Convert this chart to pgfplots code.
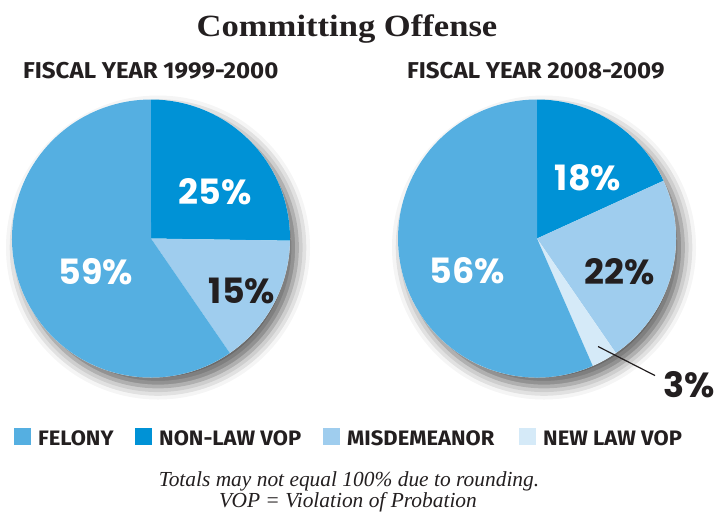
\documentclass[border=0pt]{standalone}
\usepackage{pgfplots}
\pgfplotsset{compat=1.18}
\usepackage{fontspec}
\usetikzlibrary{shadows.blur}
\setmainfont{Liberation Serif}
\newfontfamily\titlefont[FakeStretch=1.12]{Liberation Serif}
\newfontfamily\condfont[FakeStretch=1.05]{Fira Sans}
\newfontfamily\pctfont{Poppins}
\definecolor{felony}{HTML}{55AFE1}
\definecolor{nonlaw}{HTML}{0092D6}
\definecolor{misd}{HTML}{9FCDEE}
\definecolor{newlaw}{HTML}{D5EAF8}
\definecolor{ink}{HTML}{231F20}
\newcommand\R{139bp}
% #1 start angle, #2 share, #3 total, #4 colour
\newcommand\slice[4]{\fill[#4] (axis cs:0,0) -- (axis cs:{cos(#1)},{sin(#1)}) arc[start angle={#1}, delta angle={-(#2)/(#3)*360}, radius=\R] -- cycle;}
\pgfplotsset{pie/.style={hide axis, scale only axis, width=278bp, height=278bp,
  xmin=-1, xmax=1, ymin=-1, ymax=1, clip=false, anchor=center}}
\newcommand\pct[1]{\pctfont\bfseries\fontsize{35}{35}\selectfont #1}
\tikzset{pieshadow/.style={blur shadow={shadow xshift=7bp, shadow yshift=-9bp, shadow blur radius=13bp, shadow opacity=62}}}
\begin{document}
\begin{tikzpicture}
\fill[white, pieshadow] (151bp,-238.5bp) circle[radius=\R];
\fill[white, pieshadow] (537bp,-238.5bp) circle[radius=\R];
% left pie: 1999-2000 (non-law VOP 25, misdemeanor 15, felony 59)
\begin{axis}[pie, at={(151bp,-238.5bp)}]
\slice{90}{25}{99}{nonlaw}
\slice{90-25/99*360}{15}{99}{misd}
\slice{90-40/99*360}{59}{99}{felony}
\end{axis}
% right pie: 2008-2009 (non-law VOP 18, misdemeanor 22, new law VOP 3, felony 56)
\begin{axis}[pie, at={(537bp,-238.5bp)}]
\slice{90}{18}{99}{nonlaw}
\slice{90-18/99*360}{22}{99}{misd}
\slice{90-40/99*360}{3}{99}{newlaw}
\slice{90-43/99*360}{56}{99}{felony}
\draw[ink, line width=1.2bp] (axis cs:0.439,-0.777) -- (axis cs:0.849,-0.986);
\end{axis}
% title and subtitles
\node[anchor=base, ink] at (347bp,-36bp) {\titlefont\bfseries\fontsize{31}{31}\selectfont Committing Offense};
\node[anchor=base west, ink, inner sep=0pt] at (23bp,-78bp) {\condfont\bfseries\fontsize{23}{23}\selectfont FISCAL YEAR 1999-2000};
\node[anchor=base west, ink, inner sep=0pt] at (407bp,-78bp) {\condfont\bfseries\fontsize{23}{23}\selectfont FISCAL YEAR 2008-2009};
% percentage labels
\node[white] at (215bp,-192bp) {\pct{25\%}};
\node[white] at (96bp,-272bp) {\pct{59\%}};
\node[ink] at (242bp,-291bp) {\pct{15\%}};
\node[white] at (588bp,-178bp) {\pct{18\%}};
\node[white] at (467bp,-271bp) {\pct{56\%}};
\node[ink] at (620bp,-272bp) {\pct{22\%}};
\node[ink] at (689bp,-385bp) {\pct{3\%}};
% legend
\foreach \x/\c/\t in {14/felony/FELONY, 135/nonlaw/NON-LAW VOP, 323/misd/MISDEMEANOR, 519/newlaw/NEW LAW VOP}{
  \fill[\c] (\x bp,-428bp) rectangle ++(17bp,-17bp);
  \node[anchor=base west, ink, inner sep=0pt] at (\x bp+24bp,-445bp) {\condfont\bfseries\fontsize{21}{21}\selectfont \t};
}
% footnote
\node[anchor=base, ink] at (349bp,-486bp) {\itshape\fontsize{21.5}{21.5}\selectfont Totals may not equal 100\% due to rounding.};
\node[anchor=base, ink] at (348bp,-507bp) {\itshape\fontsize{21.5}{21.5}\selectfont VOP = Violation of Probation};
\pgfresetboundingbox
\path (0,0) rectangle (724bp,-514bp);
\end{tikzpicture}
\end{document}
